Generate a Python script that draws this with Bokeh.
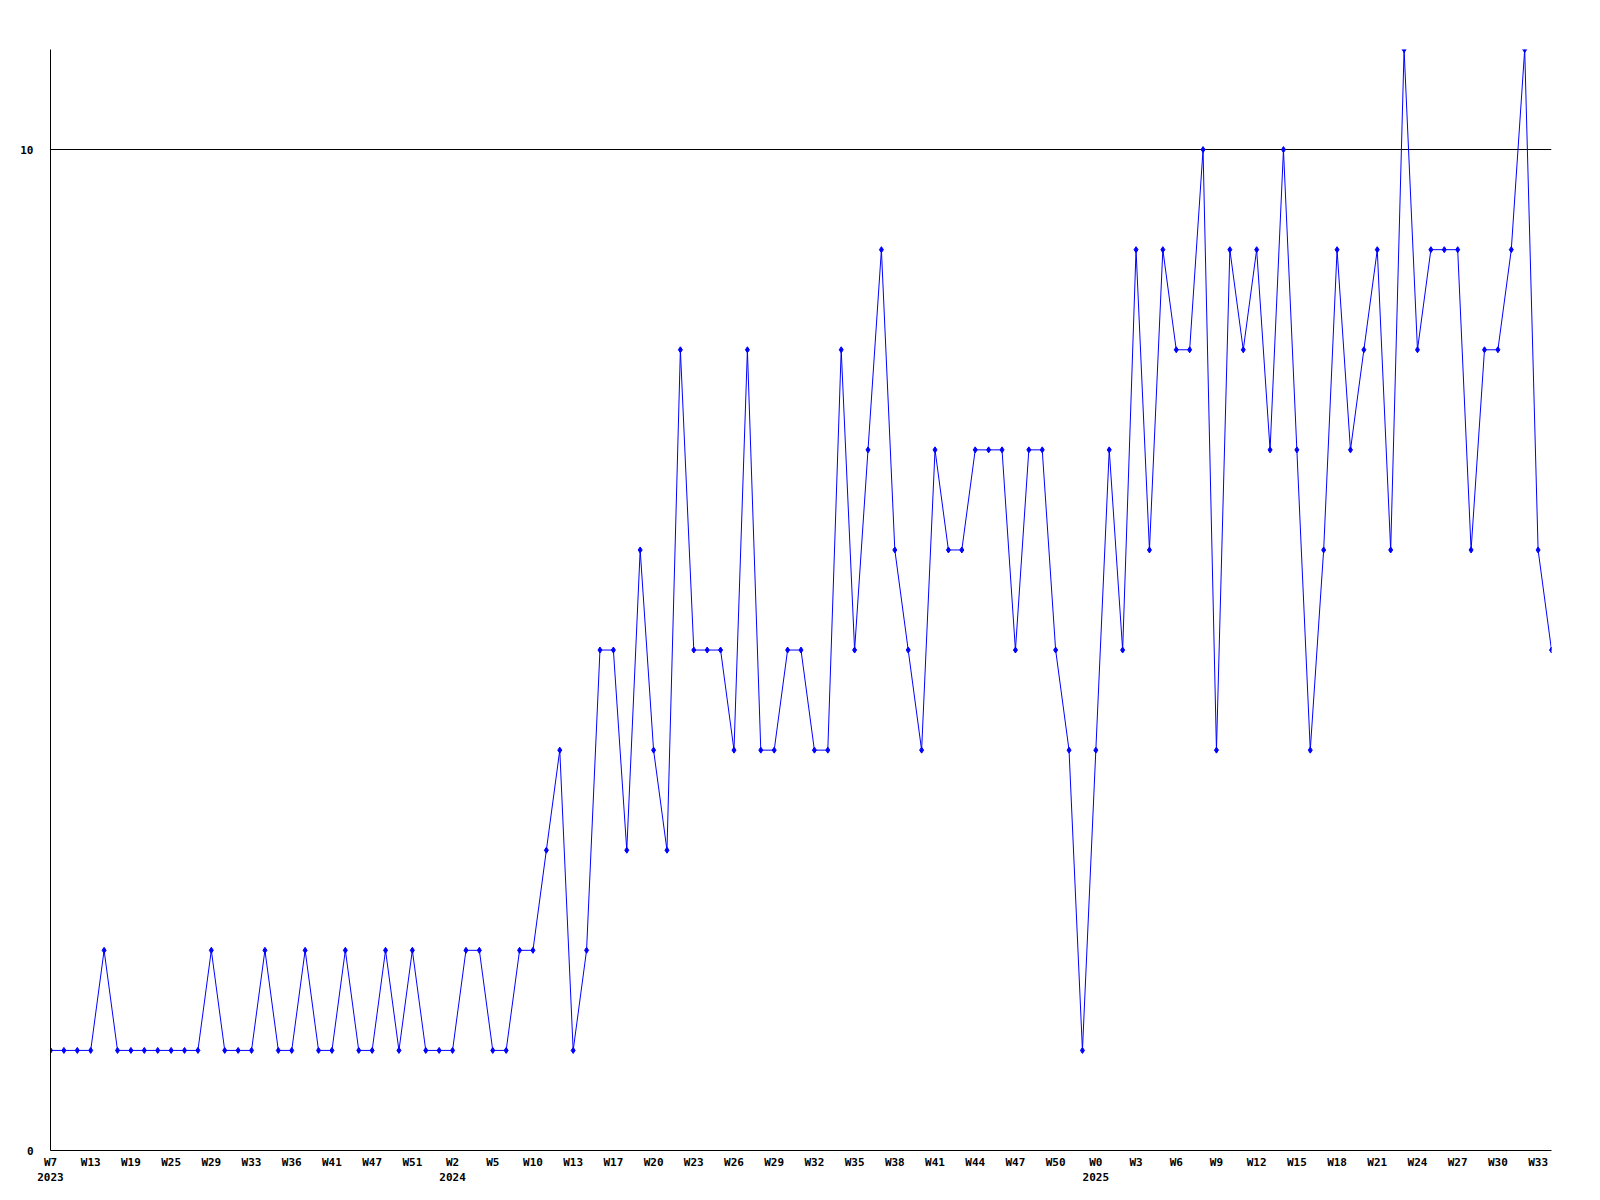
from bokeh.plotting import figure
from bokeh.models import Range1d, FixedTicker, ColumnDataSource
from bokeh.embed import file_html
from bokeh.resources import INLINE

values = [1, 1, 1, 1, 2, 1, 1, 1, 1, 1,
          1, 1, 2, 1, 1, 1, 2, 1, 1, 2,
          1, 1, 2, 1, 1, 2, 1, 2, 1, 1,
          1, 2, 2, 1, 1, 2, 2, 3, 4, 1,
          2, 5, 5, 3, 6, 4, 3, 8, 5, 5,
          5, 4, 8, 4, 4, 5, 5, 4, 4, 8,
          5, 7, 9, 6, 5, 4, 7, 6, 6, 7,
          7, 7, 5, 7, 7, 5, 4, 1, 4, 7,
          5, 9, 6, 9, 8, 8, 10, 4, 9, 8,
          9, 7, 10, 7, 4, 6, 9, 7, 8, 9,
          6, 11, 8, 9, 9, 9, 6, 8, 8, 9,
          11, 6, 5]

tick_labels = ["W7\n2023", "W13", "W19", "W25", "W29", "W33", "W36", "W41", "W47", "W51",
               "W2\n2024", "W5", "W10", "W13", "W17", "W20", "W23", "W26", "W29", "W32",
               "W35", "W38", "W41", "W44", "W47", "W50",
               "W0\n2025", "W3", "W6", "W9", "W12", "W15", "W18", "W21", "W24", "W27",
               "W30", "W33"]
tick_step = 3
y_ticks = [0, 10]
y_max = 11

idx = list(range(len(values)))
src = ColumnDataSource(data=dict(x=idx, y=values))

p = figure(width=1588, height=1188, output_backend="svg", toolbar_location=None,
           x_range=Range1d(0, len(values) - 1), y_range=Range1d(0, y_max),
           min_border_left=50, min_border_right=37, min_border_top=49, min_border_bottom=38)
p.outline_line_color = None
p.background_fill_color = "white"
p.border_fill_color = "white"

p.line("x", "y", source=src, line_color="#0000ff", line_width=1)
p.scatter("x", "y", source=src, marker="diamond", size=6,
          fill_color="#0000ff", line_color="#0000ff")

font = "DejaVu Sans Mono"
tick_pos = list(range(0, len(values), tick_step))[:len(tick_labels)]

xa = p.xaxis[0]
xa.ticker = FixedTicker(ticks=tick_pos, minor_ticks=[])
xa.major_label_overrides = {t: lab for t, lab in zip(tick_pos, tick_labels)}
xa.major_tick_out = 0
xa.major_tick_in = 0
xa.minor_tick_out = 0
xa.minor_tick_in = 0
xa.major_label_standoff = 5
xa.major_label_text_font = font
xa.major_label_text_font_style = "bold"
xa.major_label_text_font_size = "11px"
xa.major_label_text_color = "black"
xa.axis_line_color = "black"

ya = p.yaxis[0]
ya.ticker = FixedTicker(ticks=y_ticks, minor_ticks=[])
ya.major_tick_out = 0
ya.major_tick_in = 0
ya.minor_tick_out = 0
ya.minor_tick_in = 0
ya.major_label_standoff = 17
ya.major_label_text_font = font
ya.major_label_text_font_style = "bold"
ya.major_label_text_font_size = "11px"
ya.major_label_text_color = "black"
ya.axis_line_color = "black"

p.xgrid.visible = False
p.ygrid.ticker = FixedTicker(ticks=[10])
p.ygrid.grid_line_color = "black"
p.ygrid.grid_line_alpha = 1.0
p.ygrid.grid_line_width = 1

open("out.html", "w").write(file_html(p, INLINE))
